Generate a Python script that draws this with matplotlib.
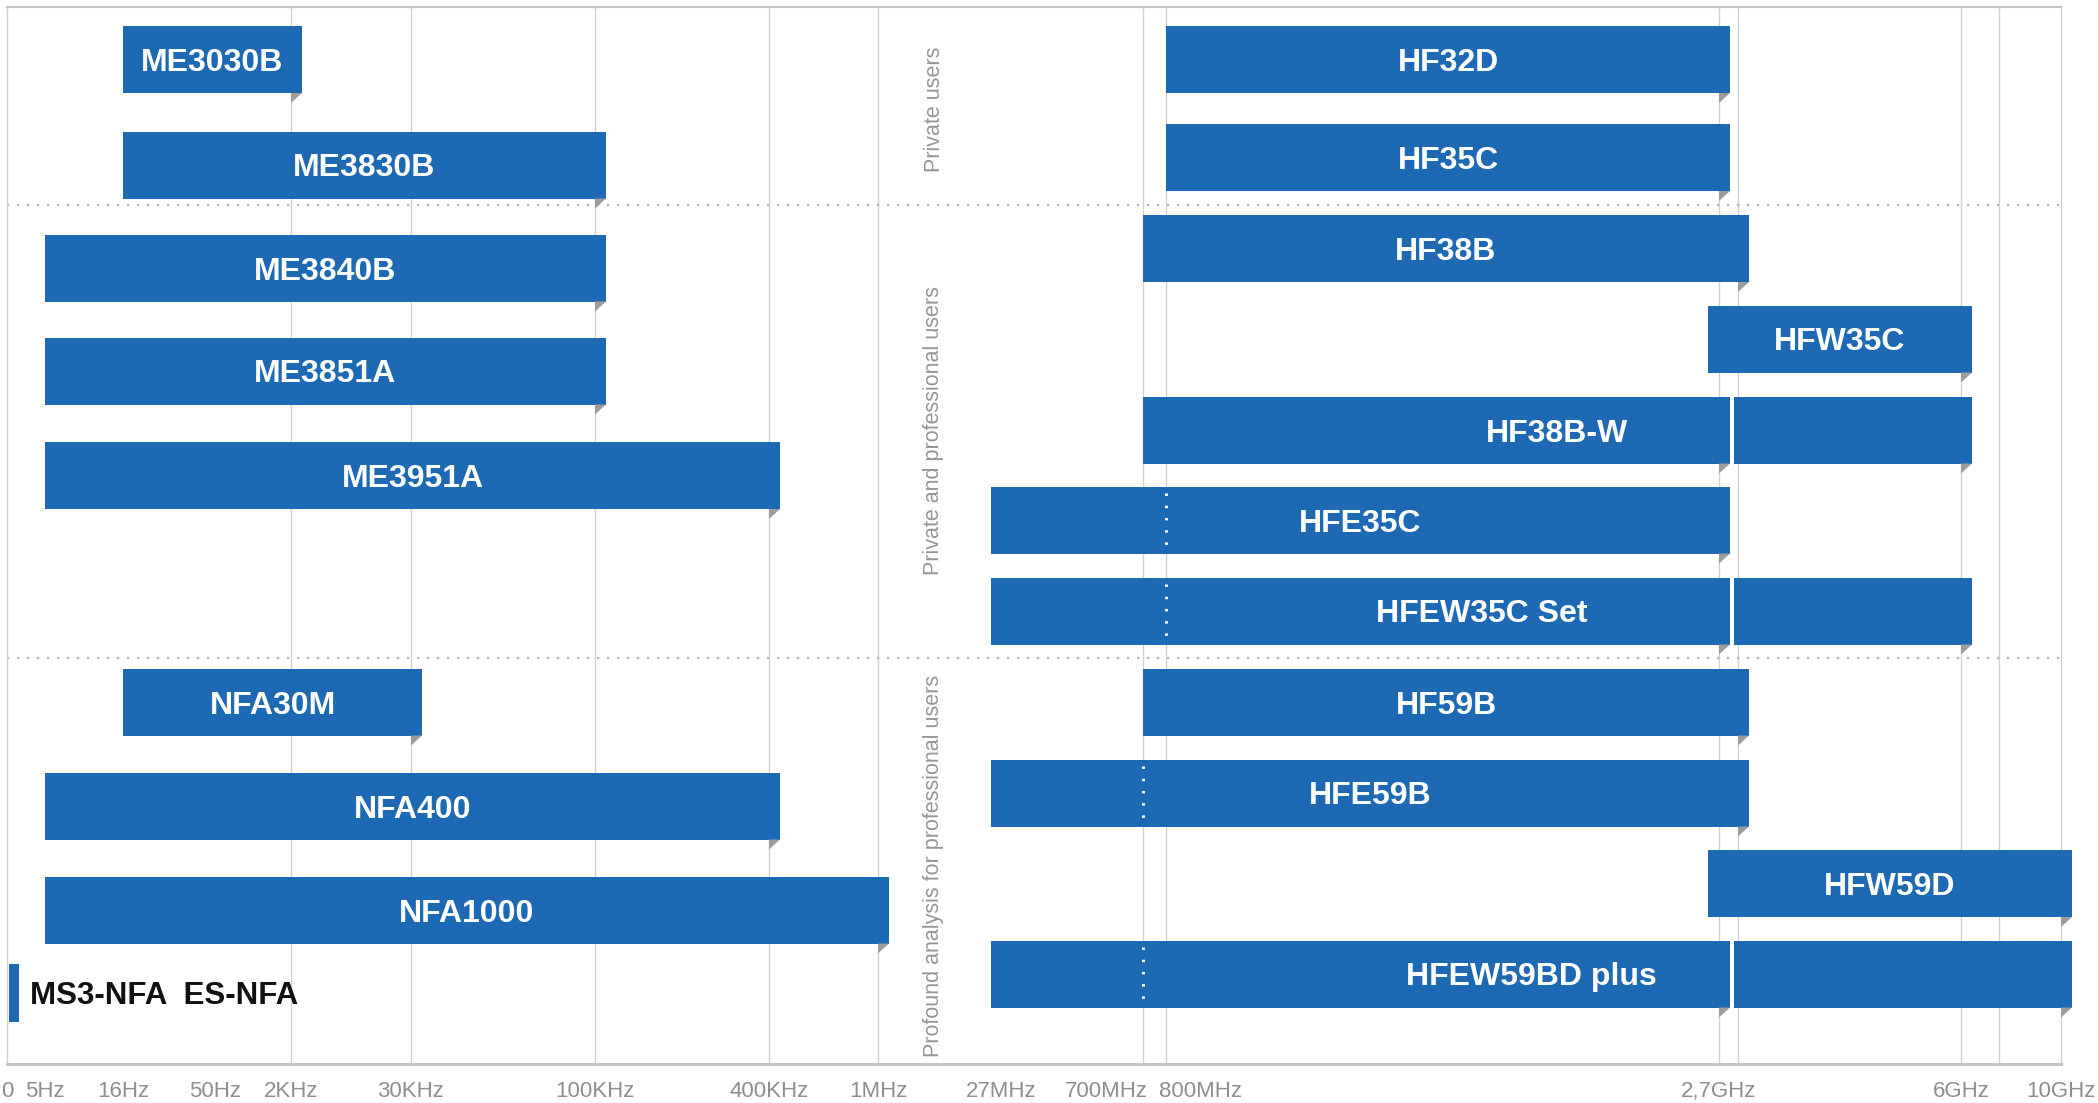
import matplotlib
matplotlib.use('Agg')
import matplotlib.pyplot as plt
import numpy as np
from matplotlib.patches import Polygon
from matplotlib.transforms import ScaledTranslation


# Figure constants
W, H = 2098, 1103
DPI = 100
BLUE = '#1e69b4'
FOLD_GREY = '#9c9c9c'
GRID_GREY = '#d2d2d2'
TEXT_GREY = '#8e8e8e'

# Frequency axis: anchor frequencies (Hz) and where each sits along the axis
SCALE_FREQ = [0, 5, 16, 50, 2e3, 30e3, 100e3, 400e3, 1e6, 27e6, 700e6, 800e6,
              2.4e9, 2.7e9, 3e9, 6e9, 8e9, 10e9, 20e9]
SCALE_POS = [7, 45, 123, 215, 291, 411, 595, 769, 878, 991, 1143, 1166,
             1708, 1719, 1738, 1961, 1999, 2061, 2161]

TICK_FREQ = [0, 5, 16, 50, 2e3, 30e3, 100e3, 400e3, 1e6, 27e6, 700e6, 800e6, 2.7e9, 6e9, 10e9]
TICK_LABELS = ['0', '5Hz', '16Hz', '50Hz', '2KHz', '30KHz', '100KHz', '400KHz', '1MHz',
               '27MHz', '700MHz', '800MHz', '2,7GHz', '6GHz', '10GHz']
GRID_FREQ = [2e3, 30e3, 100e3, 400e3, 1e6, 700e6, 800e6, 2.7e9, 3e9, 6e9, 8e9]

# Products: name, segments (start Hz, end Hz), frequency of the white dotted mark (None = none)
LEFT_NAMES = ['ME3030B', 'ME3830B', 'ME3840B', 'ME3851A', 'ME3951A', 'NFA30M', 'NFA400', 'NFA1000']
LEFT_START = [16, 16, 5, 5, 5, 16, 5, 5]
LEFT_END = [2e3, 100e3, 100e3, 100e3, 400e3, 30e3, 400e3, 1e6]

RIGHT_NAMES = ['HF32D', 'HF35C', 'HF38B', 'HFW35C', 'HF38B-W', 'HFE35C', 'HFEW35C Set',
               'HF59B', 'HFE59B', 'HFW59D', 'HFEW59BD plus']
RIGHT_SEGMENTS = [
    [(800e6, 2.7e9)],
    [(800e6, 2.7e9)],
    [(700e6, 3e9)],
    [(2.4e9, 6e9)],
    [(700e6, 2.7e9), (2.7e9, 6e9)],
    [(27e6, 2.7e9)],
    [(27e6, 2.7e9), (2.7e9, 6e9)],
    [(700e6, 3e9)],
    [(27e6, 3e9)],
    [(2.4e9, 10e9)],
    [(27e6, 2.7e9), (2.7e9, 10e9)],
]
RIGHT_MARK = [None, None, None, None, None, 800e6, 800e6, None, 700e6, None, 700e6]

DC_NAME = 'MS3-NFA  ES-NFA'
DC_FREQ = 0

GROUP_LABELS = ['Private users', 'Private and professional users',
                'Profound analysis for professional users']

# Layout (pixel rows from the top of the figure)
LEFT_ROW_Y = [59.5, 165, 268, 371, 475.5, 702, 806, 910]
RIGHT_ROW_Y = [59.5, 157.5, 248.5, 339, 430, 520, 611, 702, 793, 883.5, 974]
DC_ROW_Y = 993
GROUP_LABEL_Y = [109, 431, 866]
SEPARATOR_Y = [205, 658]
BAR_H = 67
FOLD = 11
FOLD_DEPTH = 10
SEG_GAP = 4


def fwd(f):
    return np.interp(f, SCALE_FREQ, SCALE_POS)


def inv(p):
    return np.interp(p, SCALE_POS, SCALE_FREQ)


plt.rcParams['font.family'] = ['Liberation Sans', 'DejaVu Sans']

fig = plt.figure(figsize=(W / DPI, H / DPI), dpi=DPI, facecolor='white')
ax = fig.add_axes([7 / W, 1 - 1064 / H, (2061 - 7) / W, (1064 - 7) / H])
ax.set_xscale('function', functions=(fwd, inv))
ax.set_xlim(0, 10e9)
ax.set_ylim(1064, 7)
ax.set_yticks([])

# Spines (kept under the bars)
for side in ['left', 'right']:
    ax.spines[side].set_color(GRID_GREY)
    ax.spines[side].set_linewidth(1.0)
ax.spines['top'].set_color('#c4c4c4')
ax.spines['top'].set_linewidth(1.6)
ax.spines['bottom'].set_color('#c4c4c4')
ax.spines['bottom'].set_linewidth(2.2)
for sp in ax.spines.values():
    sp.set_zorder(0.5)

# Grid and group separators
ax.vlines(GRID_FREQ, 7, 1064, colors=GRID_GREY, lw=1.0, zorder=0)
ax.hlines(SEPARATOR_Y, 0, 10e9, colors='#b4b4b4', lw=1.6, linestyles=(0, (1, 3.5)), zorder=0)


def draw_product(name, segments, yc, mark=None):
    top, bot = yc - BAR_H / 2, yc + BAR_H / 2
    x_first = None
    x_last = None
    for k, (s, e) in enumerate(segments):
        x0 = fwd(s) if k == 0 else fwd(s) + FOLD + SEG_GAP
        xe = fwd(e)
        x1 = xe + FOLD
        ax.barh(yc, inv(x1) - inv(x0), left=inv(x0), height=BAR_H,
                color=BLUE, edgecolor='none', zorder=3, clip_on=False)
        ax.add_patch(Polygon([(inv(xe), bot), (inv(x1), bot), (inv(xe), bot + FOLD_DEPTH)],
                             closed=True, facecolor=FOLD_GREY, edgecolor='none',
                             zorder=3, clip_on=False))
        if x_first is None:
            x_first = x0
        x_last = x1
    if mark is not None:
        ax.vlines(mark, top + 6, bot - 4, colors='white', lw=2.2,
                  linestyles=(0, (0.8, 3.2)), zorder=4)
    ax.text(inv((x_first + x_last) / 2), yc, name, color='white', fontsize=23,
            fontweight='bold', ha='center', va='center_baseline', zorder=5)


for name, s, e, yc in zip(LEFT_NAMES, LEFT_START, LEFT_END, LEFT_ROW_Y):
    draw_product(name, [(s, e)], yc)

for name, segs, yc, mark in zip(RIGHT_NAMES, RIGHT_SEGMENTS, RIGHT_ROW_Y, RIGHT_MARK):
    draw_product(name, segs, yc, mark)

# Static field meters (DC only): a narrow marker bar and a black label
x_dc = fwd(DC_FREQ) + 2
ax.barh(DC_ROW_Y, inv(x_dc + 10) - inv(x_dc), left=inv(x_dc), height=58,
        color=BLUE, edgecolor='none', zorder=3)
ax.text(inv(x_dc + 21), DC_ROW_Y, DC_NAME, color='#111111', fontsize=22.5,
        fontweight='bold', ha='left', va='center_baseline', zorder=5)

# Group labels, rotated
for lab, gy in zip(GROUP_LABELS, GROUP_LABEL_Y):
    fig.text(934 / W, 1 - gy / H, lab, rotation=90, color='#969696', fontsize=15.5,
             ha='center', va='center')

# Tick labels
ax.set_xticks(TICK_FREQ, TICK_LABELS)
ax.tick_params(axis='x', length=0, pad=12, labelsize=16, labelcolor=TEXT_GREY)
for lbl in ax.get_xticklabels():
    dx = 0
    if lbl.get_text() == '700MHz':
        lbl.set_horizontalalignment('right')
        dx = 5
    elif lbl.get_text() == '800MHz':
        lbl.set_horizontalalignment('left')
        dx = -7
    elif lbl.get_text() == '27MHz':
        dx = 10
    if dx:
        lbl.set_transform(lbl.get_transform() + ScaledTranslation(dx / DPI, 0, fig.dpi_scale_trans))

fig.savefig('out.png', dpi=DPI, facecolor='white')
